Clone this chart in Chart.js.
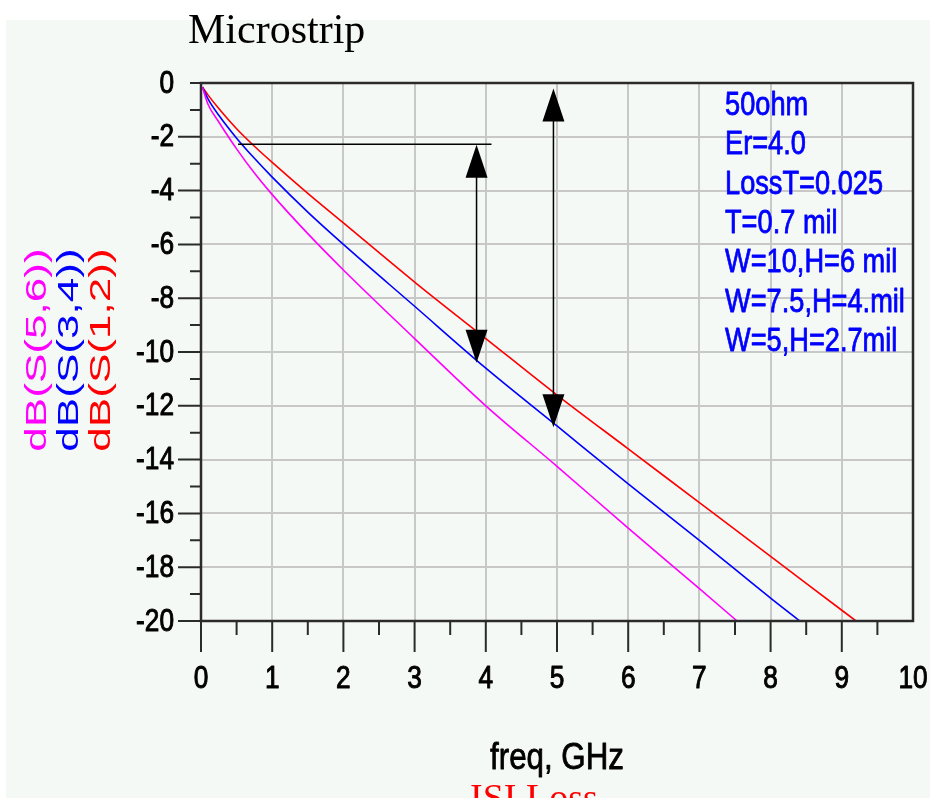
<!DOCTYPE html>
<html lang="en">
<head>
<meta charset="UTF-8">
<title>Microstrip</title>
<script src="https://cdn.jsdelivr.net/npm/chart.js"></script>
<style>
  html, body { margin: 0; padding: 0; background: #fff; }
  #wrap { width: 930px; height: 798px; }
</style>
</head>
<body>
<div id="wrap"><canvas id="chart" width="930" height="798"></canvas></div>
<script>
// insertion loss (GHz, dB)
const freqS12 = [0.02, 0.1, 0.25, 0.5, 0.75, 1, 1.5, 2, 3, 4, 5, 6, 7, 8, 9, 9.2];
const dbS12   = [-0.15, -0.45, -0.95, -1.7, -2.35, -2.95, -4.1, -5.2, -7.4, -9.5, -11.6, -13.6, -15.6, -17.6, -19.6, -20];
const freqS34 = [0.02, 0.1, 0.25, 0.5, 0.75, 1, 1.5, 2, 3, 4, 5, 6, 7, 8, 8.41];
const dbS34   = [-0.15, -0.6, -1.2, -2.05, -2.8, -3.5, -4.8, -6.0, -8.3, -10.6, -12.75, -14.9, -17.0, -19.15, -20];
const freqS56 = [0.02, 0.1, 0.25, 0.5, 0.75, 1, 1.5, 2, 3, 4, 5, 6, 7, 7.53];
const dbS56   = [-0.15, -0.8, -1.45, -2.45, -3.35, -4.15, -5.6, -6.95, -9.5, -12.0, -14.25, -16.55, -18.8, -20];

const xTickLabels = ['0', '1', '2', '3', '4', '5', '6', '7', '8', '9', '10'];
const yTickValues = [0, -2, -4, -6, -8, -10, -12, -14, -16, -18, -20];
const seriesNames = ['dB(S(5,6))', 'dB(S(3,4))', 'dB(S(1,2))'];
const seriesColors = ['#ff00ff', '#0000ff', '#ff0000'];
const notes = ['50ohm', 'Er=4.0', 'LossT=0.025', 'T=0.7 mil', 'W=10,H=6 mil', 'W=7.5,H=4.mil', 'W=5,H=2.7mil'];

// marker arrows and the reference line (GHz / dB)
const arrowA = { f: 3.87, top: -2.3, bottom: -10.4 };
const arrowB = { f: 4.95, top: -0.2, bottom: -12.8 };
const refLine = { from: 0.52, to: 4.08, db: -2.28 };

function pts(xs, ys) {
    return xs.map((x, i) => ({ x: x, y: ys[i] }));
}

// text with a horizontal squeeze and an optional thin outline to make it heavier
function txt(ctx, s, x, y, font, color, sx, align, weight) {
    ctx.save();
    ctx.translate(x, y);
    ctx.scale(sx, 1);
    ctx.font = font;
    ctx.fillStyle = color;
    ctx.textAlign = align;
    ctx.textBaseline = 'alphabetic';
    ctx.fillText(s, 0, 0);
    if (weight) {
        ctx.strokeStyle = color;
        ctx.lineWidth = weight;
        ctx.lineJoin = 'round';
        ctx.strokeText(s, 0, 0);
    }
    ctx.restore();
}

function arrowHead(ctx, x, tipY, dir) {
    // dir = -1 points up, 1 points down
    ctx.beginPath();
    ctx.moveTo(x, tipY);
    ctx.lineTo(x - 11, tipY - dir * 33);
    ctx.lineTo(x + 11, tipY - dir * 33);
    ctx.closePath();
    ctx.fill();
}

const background = {
    id: 'background',
    beforeDraw(chart) {
        const ctx = chart.ctx;
        ctx.save();
        ctx.fillStyle = '#ffffff';
        ctx.fillRect(0, 0, chart.width, chart.height);
        ctx.fillStyle = '#f5f9f6';
        ctx.fillRect(6, 20, chart.width - 6, chart.height - 20);
        ctx.restore();
    }
};

const decor = {
    id: 'decor',
    afterDraw(chart) {
        const ctx = chart.ctx;
        const a = chart.chartArea;
        const xs = chart.scales.x, ys = chart.scales.y;
        ctx.save();

        // frame
        ctx.strokeStyle = '#2b2b2b';
        ctx.lineWidth = 2.5;
        ctx.strokeRect(a.left, a.top, a.right - a.left, a.bottom - a.top);

        // ticks
        ctx.lineWidth = 2;
        ctx.beginPath();
        for (let v = 0; v >= -20; v--) {
            const y = ys.getPixelForValue(v);
            const len = (v % 2 === 0 && v !== 0) ? 23 : 11;
            ctx.moveTo(a.left - len, y);
            ctx.lineTo(a.left, y);
        }
        for (let v = 0; v < 10; v += 0.5) {
            const x = xs.getPixelForValue(v);
            const len = Number.isInteger(v) ? 31 : 14;
            ctx.moveTo(x, a.bottom);
            ctx.lineTo(x, a.bottom + len);
        }
        ctx.stroke();

        // tick labels
        const tickFont = '32px "Liberation Sans", Arial, sans-serif';
        yTickValues.forEach(v => {
            txt(ctx, String(v), 174, ys.getPixelForValue(v) + 9.5, tickFont, '#000', 0.82, 'right', 1);
        });
        xTickLabels.forEach((s, i) => {
            txt(ctx, s, xs.getPixelForValue(i), 688, tickFont, '#000', 0.82, 'center', 1);
        });

        // axis titles
        txt(ctx, 'freq, GHz', xs.getPixelForValue(5), 769, '36px "Liberation Sans", Arial, sans-serif', '#000', 0.87, 'center', 0.8);
        const colX = [38, 70, 102];
        seriesNames.forEach((s, i) => {
            ctx.save();
            ctx.translate(colX[i], 350);
            ctx.rotate(-Math.PI / 2);
            ctx.scale(1.47, 1);
            ctx.font = '30px "Liberation Sans", Arial, sans-serif';
            ctx.fillStyle = seriesColors[i];
            ctx.textAlign = 'center';
            ctx.textBaseline = 'middle';
            ctx.fillText(s, 0, 0);
            ctx.restore();
        });

        // titles
        txt(ctx, 'Microstrip', 188, 43, '42px "Liberation Serif", "Times New Roman", serif', '#000', 1, 'left');
        txt(ctx, 'ISI Loss', 470, 810, '38px "Liberation Serif", "Times New Roman", serif', '#ff0000', 1, 'left');

        // parameter notes
        notes.forEach((s, i) => {
            txt(ctx, s, 725, 115 + 39.3 * i, '32.5px "Liberation Sans", Arial, sans-serif', '#0000ff', 0.837, 'left', 0.8);
        });

        // reference line and arrows
        ctx.strokeStyle = '#000';
        ctx.fillStyle = '#000';
        ctx.lineWidth = 1.5;
        ctx.beginPath();
        ctx.moveTo(xs.getPixelForValue(refLine.from), ys.getPixelForValue(refLine.db));
        ctx.lineTo(xs.getPixelForValue(refLine.to), ys.getPixelForValue(refLine.db));
        [arrowA, arrowB].forEach(ar => {
            const x = xs.getPixelForValue(ar.f);
            ctx.moveTo(x, ys.getPixelForValue(ar.top) + 20);
            ctx.lineTo(x, ys.getPixelForValue(ar.bottom) - 20);
        });
        ctx.stroke();
        [arrowA, arrowB].forEach(ar => {
            const x = xs.getPixelForValue(ar.f);
            arrowHead(ctx, x, ys.getPixelForValue(ar.top), -1);
            arrowHead(ctx, x, ys.getPixelForValue(ar.bottom), 1);
        });

        ctx.restore();
    }
};

const ds = (data, color) => ({
    data: data,
    borderColor: color,
    borderWidth: 1.6,
    pointRadius: 0,
    showLine: true,
    fill: false,
    cubicInterpolationMode: 'monotone'
});

new Chart(document.getElementById('chart'), {
    type: 'scatter',
    data: {
        datasets: [
            ds(pts(freqS56, dbS56), seriesColors[0]),
            ds(pts(freqS34, dbS34), seriesColors[1]),
            ds(pts(freqS12, dbS12), seriesColors[2])
        ]
    },
    options: {
        responsive: false,
        devicePixelRatio: 1,
        animation: false,
        layout: { padding: { left: 201, right: 17, top: 83, bottom: 177 } },
        plugins: { legend: { display: false }, tooltip: { enabled: false } },
        scales: {
            x: {
                type: 'linear', min: 0, max: 10,
                ticks: { display: false, stepSize: 1 },
                grid: { color: '#c8c8c8', lineWidth: 2, drawTicks: false },
                border: { display: false }
            },
            y: {
                min: -20, max: 0,
                ticks: { display: false, stepSize: 2 },
                grid: { color: '#c8c8c8', lineWidth: 2, drawTicks: false },
                border: { display: false }
            }
        }
    },
    plugins: [background, decor]
});
</script>
</body>
</html>
